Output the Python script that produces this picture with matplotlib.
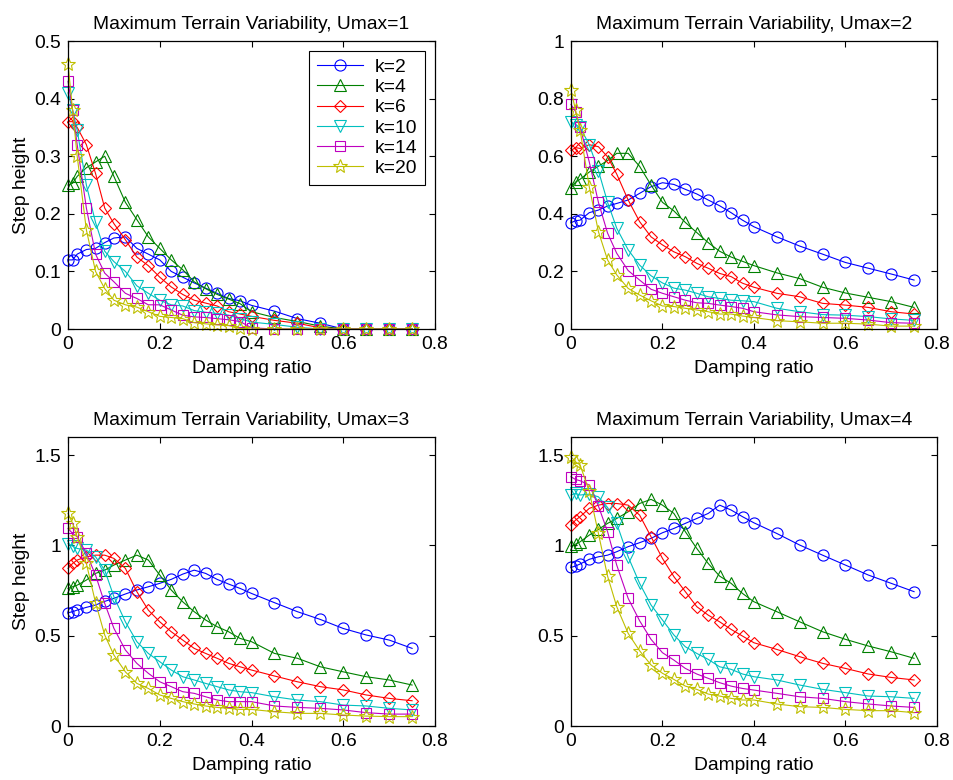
import matplotlib
matplotlib.use('Agg')
import matplotlib.pyplot as plt

plt.rcParams['font.family'] = ['Liberation Sans', 'DejaVu Sans']

# damping ratio grid (x values)
damping = [0, 0.01, 0.02, 0.04, 0.06, 0.08, 0.1, 0.125, 0.15, 0.175, 0.2, 0.225, 0.25,
           0.275, 0.3, 0.325, 0.35, 0.375, 0.4, 0.45, 0.5, 0.55, 0.6, 0.65, 0.7, 0.75]

k_labels = ['k=2', 'k=4', 'k=6', 'k=10', 'k=14', 'k=20']

# Umax = 1
u1_k2 = [0.12, 0.12, 0.13, 0.138, 0.14, 0.15, 0.158, 0.16, 0.14, 0.13, 0.12, 0.10, 0.09,
         0.08, 0.071, 0.062, 0.053, 0.049, 0.041, 0.031, 0.018, 0.01, 0, 0, 0, 0]
u1_k4 = [0.25, 0.253, 0.265, 0.28, 0.29, 0.30, 0.265, 0.22, 0.19, 0.16, 0.14, 0.12, 0.103,
         0.082, 0.07, 0.06, 0.052, 0.044, 0.03, 0.02, 0.013, 0.005, 0, 0, 0, 0]
u1_k6 = [0.36, 0.36, 0.35, 0.32, 0.27, 0.21, 0.183, 0.155, 0.125, 0.11, 0.09, 0.073, 0.06,
         0.05, 0.045, 0.04, 0.03, 0.026, 0.022, 0.015, 0.01, 0.002, 0, 0, 0, 0]
u1_k10 = [0.41, 0.38, 0.345, 0.25, 0.185, 0.135, 0.117, 0.1, 0.075, 0.062, 0.05, 0.042, 0.04,
          0.032, 0.029, 0.027, 0.024, 0.018, 0.012, 0.008, 0.003, 0, 0, 0, 0, 0]
u1_k14 = [0.43, 0.38, 0.32, 0.21, 0.13, 0.097, 0.082, 0.062, 0.053, 0.042, 0.042, 0.033, 0.024,
          0.021, 0.02, 0.018, 0.016, 0.013, 0.002, 0, 0, 0, 0, 0, 0, 0]
u1_k20 = [0.46, 0.38, 0.30, 0.172, 0.1, 0.07, 0.05, 0.042, 0.038, 0.03, 0.022, 0.02, 0.018,
          0.011, 0.009, 0.007, 0.006, 0.001, 0, 0, 0, 0, 0, 0, 0, 0]

# Umax = 2
u2_k2 = [0.369, 0.376, 0.378, 0.404, 0.413, 0.427, 0.436, 0.448, 0.471, 0.494, 0.508, 0.502, 0.485,
         0.469, 0.448, 0.428, 0.404, 0.378, 0.355, 0.32, 0.288, 0.26, 0.231, 0.211, 0.191, 0.17]
u2_k4 = [0.49, 0.51, 0.52, 0.545, 0.565, 0.585, 0.61, 0.61, 0.565, 0.5, 0.44, 0.41, 0.37,
         0.335, 0.3, 0.27, 0.25, 0.235, 0.22, 0.195, 0.175, 0.145, 0.125, 0.11, 0.095, 0.075]
u2_k6 = [0.62, 0.63, 0.627, 0.64, 0.633, 0.598, 0.538, 0.448, 0.373, 0.32, 0.292, 0.268, 0.251,
         0.228, 0.211, 0.193, 0.182, 0.159, 0.145, 0.124, 0.112, 0.089, 0.083, 0.075, 0.06, 0.052]
u2_k10 = [0.72, 0.71, 0.70, 0.64, 0.55, 0.44, 0.35, 0.275, 0.222, 0.185, 0.16, 0.142, 0.135,
          0.124, 0.112, 0.106, 0.1, 0.098, 0.095, 0.072, 0.06, 0.05, 0.048, 0.043, 0.035, 0.03]
u2_k14 = [0.78, 0.755, 0.70, 0.58, 0.44, 0.333, 0.263, 0.203, 0.17, 0.138, 0.124, 0.112, 0.1,
          0.091, 0.089, 0.083, 0.078, 0.072, 0.06, 0.049, 0.043, 0.04, 0.037, 0.031, 0.022, 0.02]
u2_k20 = [0.83, 0.76, 0.69, 0.494, 0.338, 0.24, 0.188, 0.141, 0.118, 0.098, 0.08, 0.078, 0.072,
          0.066, 0.06, 0.052, 0.052, 0.045, 0.04, 0.029, 0.025, 0.02, 0.02, 0.017, 0.01, 0.01]

# Umax = 3
u3_k2 = [0.627, 0.633, 0.642, 0.657, 0.67, 0.69, 0.707, 0.731, 0.753, 0.771, 0.79, 0.812, 0.841,
         0.863, 0.845, 0.812, 0.786, 0.762, 0.734, 0.683, 0.633, 0.59, 0.54, 0.504, 0.476, 0.43]
u3_k4 = [0.762, 0.771, 0.78, 0.808, 0.845, 0.863, 0.891, 0.919, 0.946, 0.919, 0.836, 0.753, 0.688,
         0.633, 0.587, 0.55, 0.522, 0.485, 0.467, 0.402, 0.375, 0.328, 0.3, 0.273, 0.255, 0.227]
u3_k6 = [0.873, 0.9, 0.919, 0.937, 0.946, 0.946, 0.928, 0.873, 0.744, 0.642, 0.577, 0.522, 0.476,
         0.43, 0.402, 0.375, 0.347, 0.328, 0.31, 0.277, 0.245, 0.218, 0.2, 0.172, 0.153, 0.14]
u3_k10 = [1.01, 0.996, 0.983, 0.974, 0.937, 0.863, 0.716, 0.577, 0.467, 0.402, 0.356, 0.31, 0.273,
          0.255, 0.236, 0.218, 0.2, 0.19, 0.185, 0.162, 0.144, 0.135, 0.116, 0.111, 0.098, 0.089]
u3_k14 = [1.094, 1.066, 1.048, 0.956, 0.836, 0.679, 0.541, 0.421, 0.347, 0.292, 0.245, 0.218, 0.19,
          0.181, 0.162, 0.144, 0.135, 0.135, 0.135, 0.111, 0.103, 0.098, 0.089, 0.074, 0.066, 0.066]
u3_k20 = [1.177, 1.122, 1.048, 0.9, 0.683, 0.504, 0.393, 0.3, 0.236, 0.208, 0.172, 0.153, 0.135,
          0.122, 0.111, 0.103, 0.098, 0.092, 0.092, 0.079, 0.07, 0.07, 0.061, 0.055, 0.052, 0.052]

# Umax = 4
u4_k2 = [0.878, 0.886, 0.897, 0.923, 0.937, 0.946, 0.965, 0.993, 1.015, 1.039, 1.07, 1.094, 1.122,
         1.149, 1.177, 1.223, 1.196, 1.159, 1.125, 1.066, 1.002, 0.946, 0.891, 0.836, 0.79, 0.744]
u4_k4 = [0.996, 1.007, 1.02, 1.057, 1.089, 1.122, 1.149, 1.186, 1.232, 1.255, 1.223, 1.177, 1.076,
         0.983, 0.9, 0.83, 0.79, 0.734, 0.688, 0.633, 0.577, 0.522, 0.48, 0.443, 0.411, 0.375]
u4_k6 = [1.113, 1.14, 1.159, 1.205, 1.223, 1.232, 1.232, 1.223, 1.168, 1.048, 0.928, 0.827, 0.744,
         0.661, 0.614, 0.577, 0.535, 0.498, 0.461, 0.424, 0.384, 0.347, 0.319, 0.288, 0.269, 0.255]
u4_k10 = [1.279, 1.288, 1.279, 1.284, 1.269, 1.21, 1.122, 0.937, 0.79, 0.67, 0.587, 0.504, 0.439,
          0.402, 0.369, 0.328, 0.314, 0.288, 0.273, 0.255, 0.227, 0.203, 0.185, 0.166, 0.162, 0.153]
u4_k14 = [1.38, 1.365, 1.358, 1.334, 1.218, 1.076, 0.891, 0.707, 0.583, 0.48, 0.406, 0.365, 0.319,
          0.288, 0.264, 0.24, 0.221, 0.208, 0.199, 0.181, 0.162, 0.153, 0.135, 0.122, 0.111, 0.103]
u4_k20 = [1.491, 1.463, 1.445, 1.3, 1.066, 0.83, 0.661, 0.513, 0.417, 0.338, 0.292, 0.258, 0.221,
          0.203, 0.177, 0.166, 0.153, 0.144, 0.144, 0.122, 0.107, 0.103, 0.092, 0.085, 0.085, 0.074]

x_ticks = [0, 0.2, 0.4, 0.6, 0.8]
x_ticklabels = ['0', '0.2', '0.4', '0.6', '0.8']
y_ticks_u1 = [0, 0.1, 0.2, 0.3, 0.4, 0.5]
y_ticklabels_u1 = ['0', '0.1', '0.2', '0.3', '0.4', '0.5']
y_ticks_u2 = [0, 0.2, 0.4, 0.6, 0.8, 1]
y_ticklabels_u2 = ['0', '0.2', '0.4', '0.6', '0.8', '1']
y_ticks_u34 = [0, 0.5, 1, 1.5]
y_ticklabels_u34 = ['0', '0.5', '1', '1.5']

# matlab-ish line styles
colors = ['#0000ff', '#008000', '#ff0000', '#00bfbf', '#bf00bf', '#bfbf00']
markers = ['o', '^', 'D', 'v', 's', '*']
msizes = [8, 8.5, 6.5, 8.5, 7, 10]

panels = [
    ([u1_k2, u1_k4, u1_k6, u1_k10, u1_k14, u1_k20], 1, 0.5, y_ticks_u1, y_ticklabels_u1),
    ([u2_k2, u2_k4, u2_k6, u2_k10, u2_k14, u2_k20], 2, 1.0, y_ticks_u2, y_ticklabels_u2),
    ([u3_k2, u3_k4, u3_k6, u3_k10, u3_k14, u3_k20], 3, 1.6, y_ticks_u34, y_ticklabels_u34),
    ([u4_k2, u4_k4, u4_k6, u4_k10, u4_k14, u4_k20], 4, 1.6, y_ticks_u34, y_ticklabels_u34),
]

# axes rectangles (left, bottom, width, height) in figure fraction
rects = [
    [0.0713, 0.5782, 0.3847, 0.3692],
    [0.5985, 0.5782, 0.3836, 0.3692],
    [0.0713, 0.0692, 0.3847, 0.3705],
    [0.5985, 0.0692, 0.3836, 0.3705],
]

fs = 13.9
fig = plt.figure(figsize=(9.54, 7.8), dpi=100)

for i, (series, umax, ytop, yt, ytl) in enumerate(panels):
    ax = fig.add_axes(rects[i])
    for s, c, m, ms, lab in zip(series, colors, markers, msizes, k_labels):
        ax.plot(damping, s, color=c, marker=m, markersize=ms, markerfacecolor='none',
                markeredgewidth=0.8, lw=0.8, label=lab, clip_on=False)
    ax.set_xlim(0, 0.8)
    ax.set_ylim(0, ytop)
    ax.set_xticks(x_ticks)
    ax.set_xticklabels(x_ticklabels)
    ax.set_yticks(yt)
    ax.set_yticklabels(ytl)
    ax.tick_params(direction='in', top=True, right=True, length=4, width=0.8,
                   labelsize=fs, pad=5)
    for sp in ax.spines.values():
        sp.set_linewidth(0.9)
    ax.set_title('Maximum Terrain Variability, Umax=%d' % umax, fontsize=fs, pad=9)
    ax.set_xlabel('Damping ratio', fontsize=fs, labelpad=5)
    if i % 2 == 0:
        ax.set_ylabel('Step height', fontsize=fs, labelpad=3)
    if i == 0:
        leg = ax.legend(loc='upper right', fontsize=fs, fancybox=False, edgecolor='black',
                        framealpha=1, handlelength=2.4, labelspacing=0.14,
                        borderaxespad=0.5, handletextpad=0.6, borderpad=0.4)
        leg.get_frame().set_linewidth(0.8)

fig.savefig('out.png', dpi=100)
